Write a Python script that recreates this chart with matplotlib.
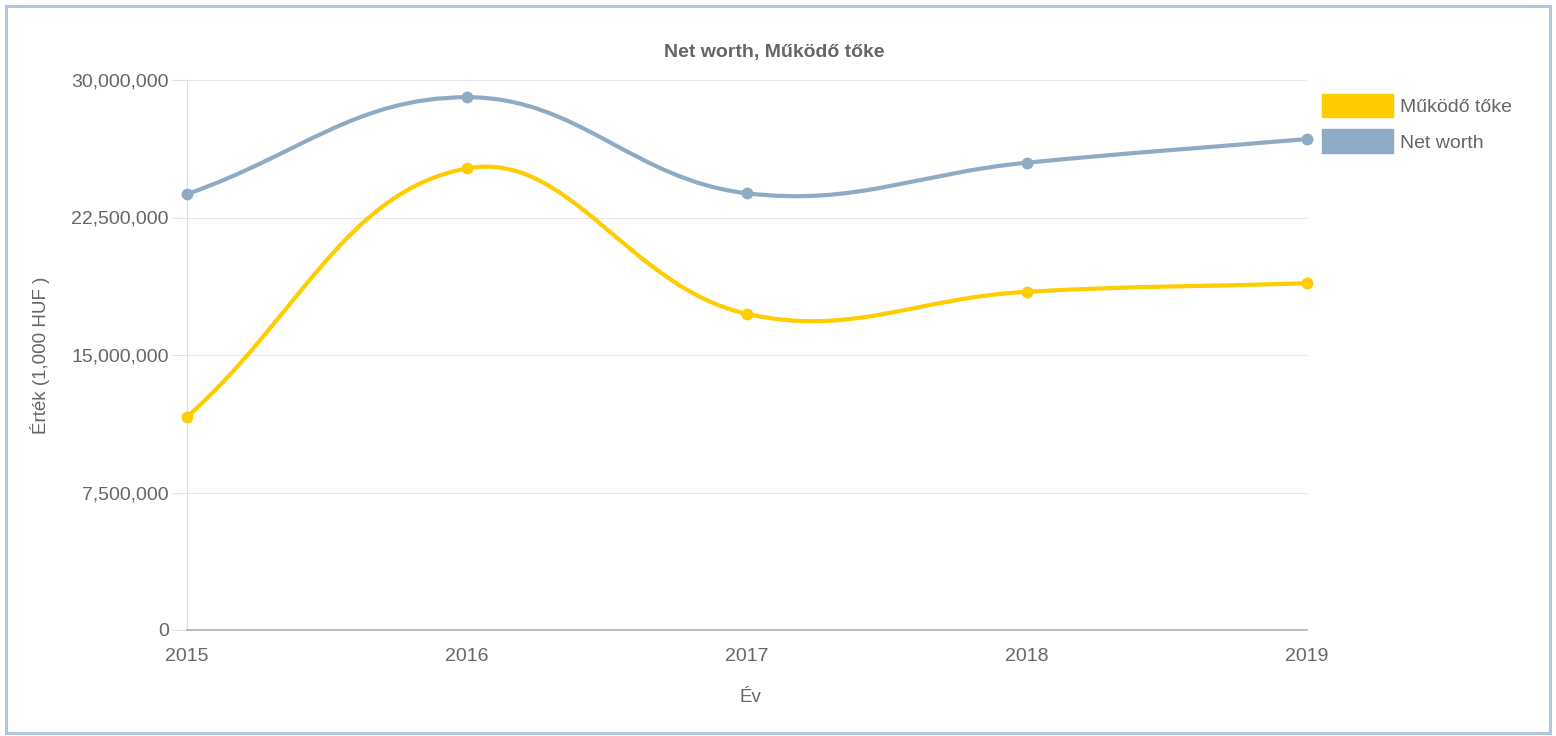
import numpy as np
import matplotlib
matplotlib.use('Agg')
import matplotlib.pyplot as plt
from matplotlib.path import Path
from matplotlib.patches import PathPatch, Patch, Rectangle
from matplotlib.ticker import FuncFormatter

plt.rcParams['font.family'] = ['Liberation Sans', 'DejaVu Sans']

# data
years = [2015, 2016, 2017, 2018, 2019]
mukodo_toke = [11.62e6, 25.18e6, 17.24e6, 18.45e6, 18.91e6]
net_worth = [23.78e6, 29.06e6, 23.82e6, 25.49e6, 26.78e6]
y_ticks = [0, 7.5e6, 15e6, 22.5e6, 30e6]

yellow = '#ffcc00'
blue = '#8eabc6'
txt = '#666666'

W, H = 1556, 736
fig = plt.figure(figsize=(W / 100, H / 100), dpi=100)

# plot area in pixels: x 187..1307, y 80..630
ax = fig.add_axes([187 / W, 1 - 630 / H, 1120 / W, 550 / H])
ax.set_xlim(2015, 2019)
ax.set_ylim(0, 30e6)


def spline_path(xs, ys, t=0.4):
    # bezier curve like chart.js (tension 0.4), computed in pixel space
    pts = ax.transData.transform(np.column_stack([xs, ys]))
    n = len(pts)
    prev_cp = np.zeros_like(pts)
    next_cp = np.zeros_like(pts)
    for i in range(n):
        p0 = pts[i - 1] if i > 0 else pts[i]
        p1 = pts[i]
        p2 = pts[i + 1] if i < n - 1 else pts[i]
        d01 = np.hypot(*(p1 - p0))
        d12 = np.hypot(*(p2 - p1))
        s01 = d01 / (d01 + d12)
        s12 = d12 / (d01 + d12)
        prev_cp[i] = p1 - t * s01 * (p2 - p0)
        next_cp[i] = p1 + t * s12 * (p2 - p0)
    verts = [pts[0]]
    codes = [Path.MOVETO]
    for i in range(1, n):
        verts += [next_cp[i - 1], prev_cp[i], pts[i]]
        codes += [Path.CURVE4] * 3
    verts = ax.transData.inverted().transform(np.array(verts))
    return Path(verts, codes)


for vals, col in [(net_worth, blue), (mukodo_toke, yellow)]:
    ax.add_patch(PathPatch(spline_path(years, vals), facecolor='none',
                           edgecolor=col, lw=3.0, capstyle='round', zorder=3))
    ax.plot(years, vals, 'o', color=col, markersize=7.5, clip_on=False, zorder=4)

# axes styling
ax.set_yticks(y_ticks)
ax.yaxis.set_major_formatter(FuncFormatter(lambda v, p: f'{int(v):,}'))
ax.set_xticks(years)
ax.grid(axis='y', color='#e6e6e6', lw=0.8)
ax.set_axisbelow(True)
for s in ['top', 'right']:
    ax.spines[s].set_visible(False)
ax.spines['left'].set_color('#e0e0e0')
ax.spines['left'].set_linewidth(0.8)
ax.spines['bottom'].set_color('#aaaaaa')
ax.spines['bottom'].set_linewidth(1.1)
ax.tick_params(axis='y', length=11, width=0.8, color='#e0e0e0', pad=2,
               labelsize=14, labelcolor=txt)
ax.tick_params(axis='x', length=0, pad=13, labelsize=14, labelcolor=txt)

# titles
fig.text(774 / W, 1 - 52 / H, 'Net worth, Működő tőke', ha='center', va='center',
         fontsize=14, fontweight='bold', color=txt)
fig.text(750 / W, 1 - 697 / H, 'Év', ha='center', va='center', fontsize=13.5, color=txt)
fig.text(40 / W, 1 - 355 / H, 'Érték (1,000 HUF )', ha='center', va='center',
         rotation=90, fontsize=13.5, color=txt)

# legend
handles = [Patch(facecolor=yellow, edgecolor=yellow, label='Működő tőke'),
           Patch(facecolor=blue, edgecolor=blue, label='Net worth')]
fig.legend(handles=handles, loc='upper left', bbox_to_anchor=(1322 / W, 1 - 94 / H),
           frameon=False, fontsize=14, labelcolor=txt, borderpad=0, borderaxespad=0,
           handlelength=3.66, handleheight=1.47, labelspacing=0.62, handletextpad=0.36)

# outer border
fig.patches.append(Rectangle((5.5 / W, 3 / H), (W - 12) / W, (H - 8.5) / H,
                             transform=fig.transFigure, fill=False,
                             edgecolor='#b3c6dc', lw=2.2))

fig.savefig('out.png', dpi=100)
